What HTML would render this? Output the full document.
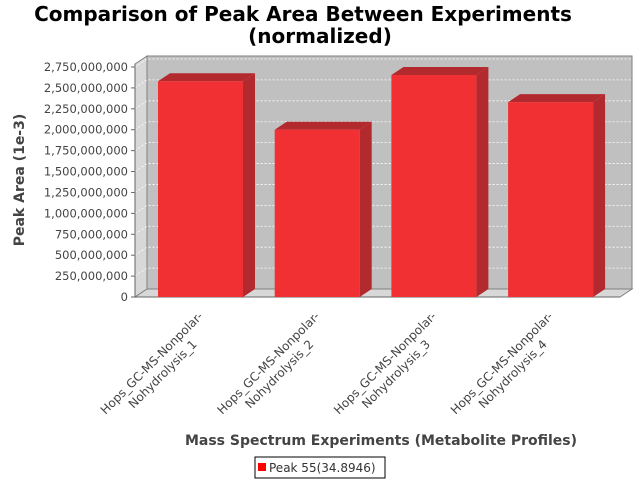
<!DOCTYPE html>
<html><head><meta charset="utf-8"><style>
body{margin:0;background:#fff;}
svg{font-family:"DejaVu Sans","Liberation Sans",sans-serif;}
</style></head><body>
<svg id="c" width="640" height="480" xmlns="http://www.w3.org/2000/svg">
<text x="303" y="21" text-anchor="middle" font-size="20" font-weight="bold">Comparison of Peak Area Between Experiments</text>
<text x="320" y="43" text-anchor="middle" font-size="20" font-weight="bold">(normalized)</text>
<text transform="translate(24,180) rotate(-90)" text-anchor="middle" font-size="14" font-weight="bold" fill="#444">Peak Area (1e-3)</text>
<text x="381" y="445" text-anchor="middle" font-size="14" font-weight="bold" fill="#444">Mass Spectrum Experiments (Metabolite Profiles)</text>
<g>
<rect x="255" y="457" width="130" height="21" fill="#fff" stroke="#000"/>
<rect x="258" y="463" width="8" height="8" fill="#f00"/>
<text x="269" y="472" font-size="12" fill="#333">Peak 55(34.8946)</text>
</g>
<g id="plot"></g>
</svg>
<script>
const categories=["Hops_GC-MS-Nonpolar-|Nohydrolysis_1","Hops_GC-MS-Nonpolar-|Nohydrolysis_2","Hops_GC-MS-Nonpolar-|Nohydrolysis_3","Hops_GC-MS-Nonpolar-|Nohydrolysis_4"];
const values=[2.58e9,2.0e9,2.655e9,2.33e9];
const ticks=[0,250e6,500e6,750e6,1000e6,1250e6,1500e6,1750e6,2000e6,2250e6,2500e6,2750e6];
const NS="http://www.w3.org/2000/svg";
const g=document.getElementById('plot');
const X0=135,X1=620,Y0=297,DX=12,DY=8,YMAX=2.75e9,YTOP=67;
const y=v=>Y0-(v/YMAX)*(Y0-YTOP);
function mk(t,a,p){const e=document.createElementNS(NS,t);for(const k in a)e.setAttribute(k,a[k]);(p||g).appendChild(e);return e;}
let e=mk('polygon',{points:`${X0},${Y0} ${X0+DX},${Y0-DY} ${X0+DX},56 ${X0},64`,fill:'#d8d8d8',stroke:'#808080'});

e=mk('rect',{x:X0+DX,y:56,width:X1-X0,height:Y0-DY-56,fill:'#c0c0c0',stroke:'#808080'});

e=mk('polygon',{points:`${X0},${Y0} ${X0+DX},${Y0-DY} ${X1+DX},${Y0-DY} ${X1},${Y0}`,fill:'#d8d8d8',stroke:'#808080'});

ticks.forEach((t,i)=>{const yy=y(t);
 if(t>0){e=mk('polyline',{points:`${X0},${yy} ${X0+DX},${yy-DY} ${X1+DX},${yy-DY}`,fill:'none',stroke:'#fff','stroke-dasharray':'2,2','stroke-width':0.8});
 }
 e=mk('line',{x1:X0-4,x2:X0,y1:yy,y2:yy,stroke:'#666'});
 
 e=mk('text',{x:X0-7,y:yy+4,'text-anchor':'end','font-size':11.5,fill:'#444'});e.textContent=t.toLocaleString('en-US');
 
});
e=mk('line',{x1:X0,x2:X0,y1:64,y2:Y0,stroke:'#666'});

e=mk('line',{x1:X0,x2:X1,y1:Y0,y2:Y0,stroke:'#666'});

const band=116.7, bw=85, first=200.5;
categories.forEach((c,i)=>{
 const cx=first+band*i, x=cx-bw/2, yt=y(values[i]);
 const bg=mk('g',{});
 mk('polygon',{points:`${x},${yt} ${x+DX},${yt-DY} ${x+bw+DX},${yt-DY} ${x+bw},${yt}`,fill:'#b32a2e'},bg);
 mk('polygon',{points:`${x+bw},${yt} ${x+bw+DX},${yt-DY} ${x+bw+DX},${Y0-DY} ${x+bw},${Y0}`,fill:'#b32a2e'},bg);
 mk('rect',{x:x,y:yt,width:bw,height:Y0-yt,fill:'#f03033'},bg);
 const [l1,l2]=c.split('|');
 let t=mk('text',{transform:`translate(${cx-46},${366}) rotate(-45)`,'text-anchor':'middle','font-size':12,fill:'#444'});t.textContent=l1;
 
 t=mk('text',{transform:`translate(${cx-35},${377}) rotate(-45)`,'text-anchor':'middle','font-size':12,fill:'#444'});t.textContent=l2;
 
});
</script>
</body></html>
